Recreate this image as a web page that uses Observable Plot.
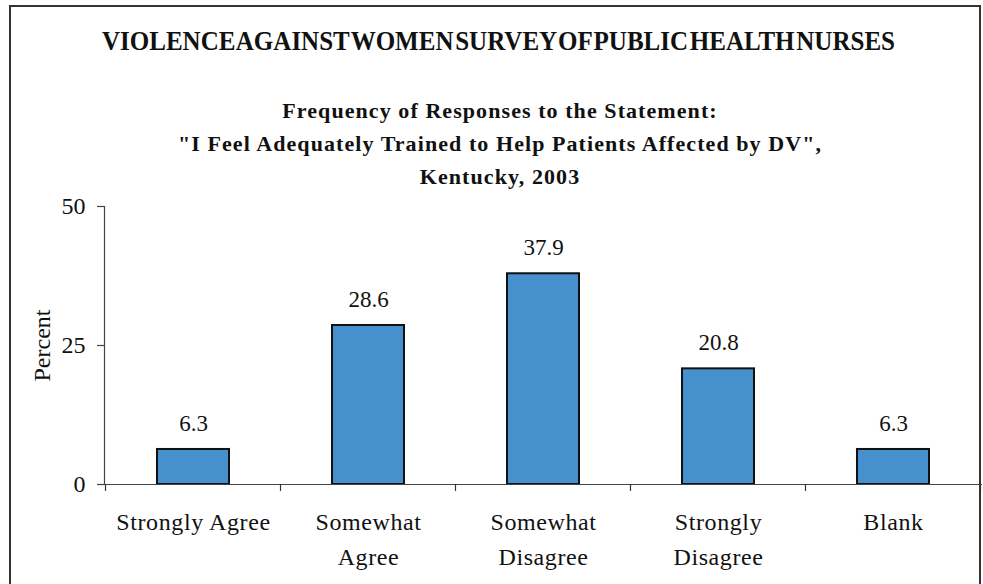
<!DOCTYPE html>
<html>
<head>
<meta charset="utf-8">
<script src="https://cdn.jsdelivr.net/npm/d3@7"></script>
<script src="https://cdn.jsdelivr.net/npm/@observablehq/plot@0.6"></script>
<style>
  html, body { margin: 0; padding: 0; background: #fff; }
  #page { position: relative; width: 983px; height: 584px; overflow: hidden; font-family: "Liberation Serif", "DejaVu Serif", serif; color: #111; }
  #frame { position: absolute; left: 9px; top: 5px; width: 968px; height: 640px; border: 2.5px solid #333; box-sizing: content-box; pointer-events: none; z-index: 2; }
  #title { position: absolute; left: 102px; top: 26px; width: 793px; height: 30px; line-height: 30px; font-size: 27px; font-weight: bold; white-space: nowrap; z-index: 3; font-family: "Liberation Serif", "DejaVu Serif", serif; }
  #title span { display: inline-block; transform-origin: left center; word-spacing: -0.18em; }
  #subtitle { position: absolute; left: 0; top: 94px; width: 1000px; text-align: center; font-size: 22px; font-weight: bold; line-height: 33px; z-index: 3; font-family: "Liberation Serif", "DejaVu Serif", serif; }
  #chart { position: absolute; left: 0; top: 190px; z-index: 1; }
  #chart text { font-family: "Liberation Serif", "DejaVu Serif", serif; }
  #chart g[aria-label="x-axis tick label"] text { letter-spacing: 0.6px; }
</style>
</head>
<body>
<div id="page">
  <div id="title"><span>VIOLENCE AGAINST WOMEN SURVEY OF PUBLIC HEALTH NURSES</span></div>
  <div id="subtitle">
    <div class="sl">Frequency of Responses to the Statement:</div>
    <div class="sl">"I Feel Adequately Trained to Help Patients Affected by DV",</div>
    <div class="sl">Kentucky, 2003</div>
  </div>
  <div id="chart"></div>
  <div id="frame"></div>
</div>
<script>
const categories = ["Strongly Agree", "Somewhat Agree", "Somewhat Disagree", "Strongly Disagree", "Blank"];
const tickLabels = ["Strongly Agree", "Somewhat\nAgree", "Somewhat\nDisagree", "Strongly\nDisagree", "Blank"];
const values = [6.3, 28.6, 37.9, 20.8, 6.3];
const yTicks = [0, 25, 50];

const data = categories.map((c, i) => ({category: c, value: values[i]}));
const labelOf = new Map(categories.map((c, i) => [c, tickLabels[i]]));
const font = "'Liberation Serif', 'DejaVu Serif', serif";

// category boundary ticks drawn from the band scale
function boundaryTicks(index, scales, values, dimensions) {
  const x = scales.x;
  const step = x(categories[1]) - x(categories[0]);
  const bw = x.bandwidth ? x.bandwidth() : 0;
  const y0 = scales.y(0);
  const g = d3.create("svg:g").attr("stroke", "#333").attr("stroke-width", 1.2);
  const bounds = categories.map(c => x(c) + bw / 2 - step / 2);
  bounds.push(x(categories[categories.length - 1]) + bw / 2 + step / 2);
  for (const b of bounds) {
    g.append("line").attr("x1", b).attr("x2", b).attr("y1", y0).attr("y2", y0 + 7);
  }
  return g.node();
}

const chart = Plot.plot({
  width: 983,
  height: 394,
  marginTop: 16,
  marginBottom: 100,
  marginLeft: 104,
  marginRight: 1,
  style: {fontFamily: font, color: "#111", background: "transparent"},
  x: {domain: categories, paddingInner: 0.59, paddingOuter: 0.295, align: 0.5, label: null},
  y: {domain: [0, 50], label: null},
  marks: [
    Plot.barY(data, {x: "category", y: "value", fill: "#4590cd", stroke: "#111", strokeWidth: 2}),
    Plot.text(data, {x: "category", y: "value", text: d => d.value.toFixed(1), dy: -26, fontSize: 23, fill: "#111", fontFamily: font}),
    Plot.ruleY([0], {stroke: "#444", strokeWidth: 1.2, insetLeft: -7}),
    Plot.frame({anchor: "left", stroke: "#444", strokeWidth: 1.2}),
    Plot.axisY({ticks: yTicks, tickSize: 7, tickPadding: 12, fontSize: 24, stroke: "#444", strokeWidth: 1.2, fontFamily: font,
      label: "Percent", labelAnchor: "center", labelArrow: "none", labelOffset: 72, tickFormat: d => String(d)}),
    Plot.axisX({tickSize: 0, tickPadding: 21, fontSize: 24, lineHeight: 1.45, fontFamily: font, tickFormat: d => labelOf.get(d)}),
    boundaryTicks
  ]
});
document.getElementById("chart").appendChild(chart);

// fit the condensed title into its measured width
const span = document.querySelector("#title span");
const natural = span.getBoundingClientRect().width;
span.style.transform = `scaleX(${793 / natural})`;

// letter-spacing of subtitle to match measured line width
const lines = document.querySelectorAll("#subtitle .sl");
const probe = document.createElement("span");
probe.textContent = lines[1].textContent;
probe.style.cssText = "position:absolute;visibility:hidden;white-space:nowrap;font-size:22px;font-weight:bold;font-family:" + font;
document.body.appendChild(probe);
const w2 = probe.getBoundingClientRect().width;
const n2 = lines[1].textContent.length;
const ls = (644 - w2) / n2;
document.getElementById("subtitle").style.letterSpacing = ls + "px";
probe.remove();
</script>
</body>
</html>
